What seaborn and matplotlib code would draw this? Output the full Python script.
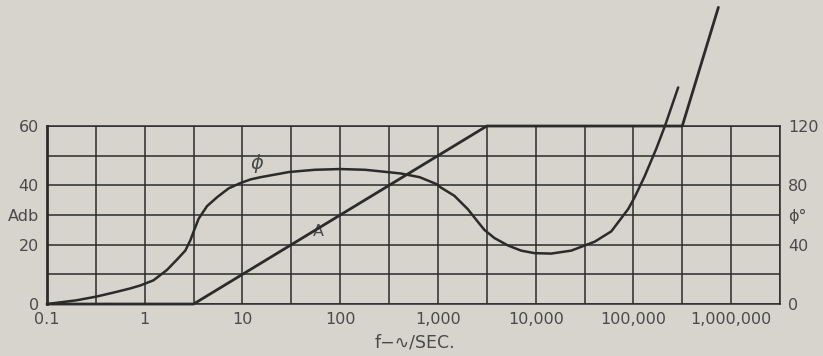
import matplotlib
matplotlib.use("Agg")
import matplotlib.pyplot as plt
import numpy as np
import pandas as pd
import seaborn as sns

# Amplitude curve A (dB, left scale)
a_freq = [0.1, 3.16, 3162, 316000, 740000]
a_db = [0, 0, 60, 60, 100]

# Phase curve (degrees, right scale)
phi_freq = [0.1, 0.2, 0.32, 0.5, 0.71, 0.9, 1.23, 1.69, 2.14, 2.6, 2.93,
            3.17, 3.56, 4.34, 5.5, 7.23, 9.5, 12.1, 15.3, 30, 55, 100, 180,
            300, 417, 650, 955, 1074, 1470, 2017, 2556, 2985, 3780, 5190,
            7100, 9730, 14400, 23100, 40100, 59400, 88300, 103000, 130000,
            172000, 210000, 287000]
phi_deg = [0, 2.5, 5, 8, 10.5, 12.5, 16, 23, 30, 36, 43,
           49, 57.5, 66, 72, 78, 81.5, 84, 85.5, 89, 90.5, 91, 90.5,
           89, 88, 85.5, 81, 78.5, 73, 64, 55.5, 50, 44.5, 39.5,
           36, 34.3, 34, 36, 42, 49, 64, 72, 86,
           105, 120, 146]

x_decades = [0.1, 1, 10, 100, 1000, 10000, 100000, 1000000]
x_labels = ["0.1", "1", "10", "100", "1,000", "10,000", "100,000", "1,000,000"]
left_ticks = [0, 10, 20, 30, 40, 50, 60]
left_labels = ["0", "", "20", "Adb", "40", "", "60"]
right_ticks = [0, 20, 40, 60, 80, 100, 120]
right_labels = ["0", "", "40", "ϕ°", "80", "", "120"]

paper = "#d6d4cc"
ink = "#2b2b2b"
text_c = "#4a4a4a"

sns.set_theme(style="white")
plt.rcParams["font.family"] = ["DejaVu Sans"]

fig = plt.figure(figsize=(8.23, 3.56), dpi=100, facecolor=paper)
ax = fig.add_axes([0.0571, 0.146, 0.8907, 0.500])
ax.set_facecolor(paper)
ax.set_xscale("log")

df_a = pd.DataFrame({"f": a_freq, "A": a_db})
df_phi = pd.DataFrame({"f": phi_freq, "phi": phi_deg})

sns.lineplot(data=df_a, x="f", y="A", ax=ax, color=ink, linewidth=2.0,
             sort=False, estimator=None, zorder=5)
ax.lines[-1].set_clip_on(False)
ax.lines[-1].set_solid_joinstyle("round")

ax.set_xlim(0.1, 10 ** 6.5)
ax.set_ylim(0, 60)

# half-decade vertical grid, 10 dB horizontal grid
half = [10 ** (k / 2) for k in range(-2, 14)]
ax.set_xticks(half, minor=True)
ax.set_xticks(x_decades)
ax.set_xticklabels(x_labels)
ax.set_yticks(left_ticks)
ax.set_yticklabels(left_labels)
ax.grid(True, which="both", axis="x", color=ink, linewidth=1.1)
ax.grid(True, which="major", axis="y", color=ink, linewidth=1.1)
ax.tick_params(axis="both", which="both", length=0, labelsize=11.5,
               labelcolor=text_c, pad=6)
ax.set_xlabel("")
ax.set_ylabel("")

for side, sp in ax.spines.items():
    sp.set_color(ink)
    sp.set_linewidth(1.1)
ax.spines["left"].set_linewidth(2.0)

ax2 = ax.twinx()
sns.lineplot(data=df_phi, x="f", y="phi", ax=ax2, color=ink, linewidth=1.8,
             sort=False, estimator=None, zorder=5)
ax2.lines[-1].set_clip_on(False)
ax2.lines[-1].set_solid_joinstyle("round")
ax2.set_ylim(0, 120)
ax2.set_yticks(right_ticks)
ax2.set_yticklabels(right_labels)
ax2.tick_params(axis="y", length=0, labelsize=11.5, labelcolor=text_c, pad=6)
ax2.set_ylabel("")
ax2.grid(False)
for sp in ax2.spines.values():
    sp.set_visible(False)

ax.text(14, 47.5, "ϕ", fontsize=14, color=text_c, ha="center", va="center",
        fontstyle="italic")
ax.text(60, 24.5, "A", fontsize=11.5, color=text_c, ha="center", va="center")

fig.text(0.504, 0.039, "f−∿/SEC.", fontsize=12.5, color=text_c,
         ha="center", va="center")

fig.savefig("out.png", dpi=100, facecolor=paper)
